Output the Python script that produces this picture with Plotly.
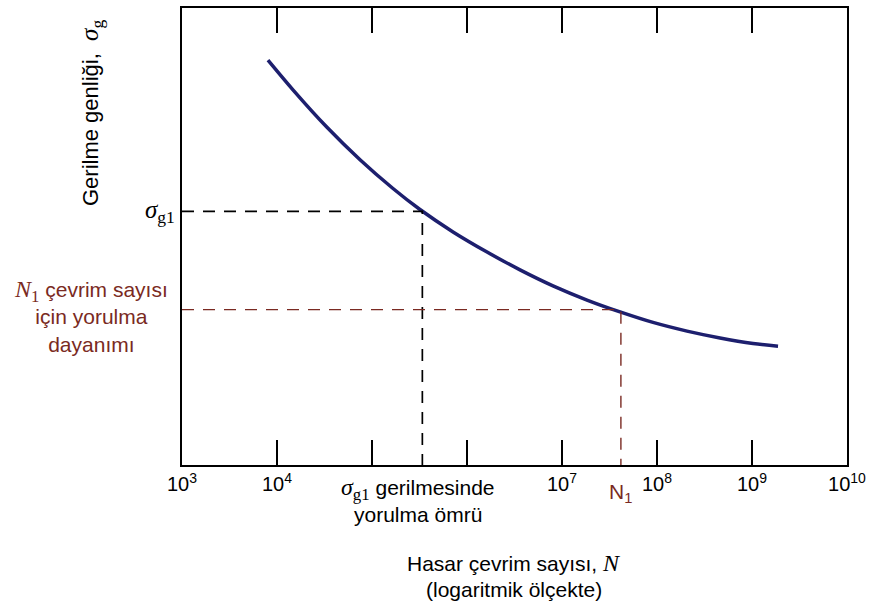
import plotly.graph_objects as go

# ---- data ----
curve_logN = [3.905, 4.168, 4.526, 4.874, 5.221, 5.505, 5.853, 6.211, 6.558, 6.905,
              7.263, 7.611, 7.958, 8.316, 8.663, 9.011, 9.274]
curve_stress = [88.6, 82.1, 73.9, 66.8, 60.5, 55.9, 51.0, 46.6, 42.7, 39.2,
                36.1, 33.5, 31.2, 29.3, 27.8, 26.6, 26.0]

sigma_g1 = 55.5          # stress level sigma_g1
life_at_sigma_g1 = 5.53  # log10 N at sigma_g1
N1_log = 7.62            # log10 N1
fatigue_strength_N1 = 34.0

tick_exps = [3, 4, 5, 6, 7, 8, 9, 10]
tick_text = ["10<sup>3</sup>", "10<sup>4</sup>", "", "", "10<sup>7</sup>",
             "10<sup>8</sup>", "10<sup>9</sup>", "10<sup>10</sup>"]

# ---- layout geometry (window pixels) ----
W, H = 870, 610
L, R, T, B = 182, 847, 8, 465

def pxx(x):
    return (x - L) / (R - L)

def pxy(y):
    return (B - y) / (B - T)

SANS = "Liberation Sans, Arial, sans-serif"
SERIF = "Liberation Serif, Times New Roman, serif"
RED = "#7a2a22"
NAVY = "#1d1f6e"
FS = 21

def sym(s, sub, size=25):
    return (f"<span style=\"font-family:{SERIF};font-size:{size}px\"><i>{s}</i>"
            f"<sub>{sub}</sub></span>")

fig = go.Figure()

fig.add_trace(go.Scatter(
    x=[10 ** v for v in curve_logN], y=curve_stress,
    mode="lines", line=dict(color=NAVY, width=3.5, shape="spline", smoothing=0.8),
    hoverinfo="skip", showlegend=False))

# black dashed guide lines
fig.add_trace(go.Scatter(
    x=[10 ** 3, 10 ** life_at_sigma_g1, 10 ** life_at_sigma_g1],
    y=[sigma_g1, sigma_g1, 0],
    mode="lines", line=dict(color="black", width=1.7, dash="12px,9px"),
    hoverinfo="skip", showlegend=False))

# red dashed guide lines
fig.add_trace(go.Scatter(
    x=[10 ** 3, 10 ** N1_log, 10 ** N1_log],
    y=[fatigue_strength_N1, fatigue_strength_N1, 0],
    mode="lines", line=dict(color=RED, width=1.4, dash="12px,9px"),
    hoverinfo="skip", showlegend=False))

# invisible trace to anchor the top tick axis
fig.add_trace(go.Scatter(
    x=[10 ** 3, 10 ** 10], y=[0, 0], xaxis="x2", mode="markers",
    marker=dict(opacity=0), hoverinfo="skip", showlegend=False))

tickvals = [10 ** e for e in tick_exps]
fig.update_layout(
    xaxis=dict(
        type="log", range=[3, 10],
        tickvals=tickvals, ticktext=tick_text,
        ticks="inside", ticklen=25, tickwidth=1.5, tickcolor="black",
        showline=True, linecolor="black", linewidth=2, mirror=True,
        showgrid=False, zeroline=False, automargin=False,
        tickfont=dict(family=SANS, size=20, color="black")),
    xaxis2=dict(
        type="log", range=[3, 10], overlaying="x", side="top", anchor="y",
        tickvals=tickvals, showticklabels=False,
        ticks="inside", ticklen=25, tickwidth=1.5, tickcolor="black",
        showline=False, showgrid=False, zeroline=False, automargin=False),
    yaxis=dict(
        range=[0, 100], showticklabels=False, ticks="",
        showline=True, linecolor="black", linewidth=2, mirror=True,
        showgrid=False, zeroline=False, automargin=False),
)

ann = []
# y-axis title
ann.append(dict(
    xref="paper", yref="paper", x=pxx(92), y=pxy(113),
    text="Gerilme genliği,  " + sym("σ", "g", 25),
    textangle=-90, showarrow=False, font=dict(family=SANS, size=22, color="black"),
    xanchor="center", yanchor="middle"))
# sigma_g1 label on y axis
ann.append(dict(
    xref="paper", yref="y", x=pxx(177), y=sigma_g1,
    text="<i>σ</i><sub>g1</sub>", showarrow=False,
    font=dict(family=SERIF, size=25, color="black"),
    xanchor="right", yanchor="middle"))
# red label on y axis
ann.append(dict(
    xref="paper", yref="paper", x=pxx(91), y=pxy(316),
    text=(sym("N", "1", 24) + " çevrim sayısı<br>için yorulma<br>dayanımı"),
    showarrow=False, align="center",
    font=dict(family=SANS, size=FS, color=RED),
    xanchor="center", yanchor="middle"))
# sigma_g1 life label below x axis
ann.append(dict(
    xref="x", yref="paper", x=life_at_sigma_g1 - 0.05, y=pxy(489),
    text=sym("σ", "g1", 24) + " gerilmesinde",
    showarrow=False, font=dict(family=SANS, size=FS, color="black"),
    xanchor="center", yanchor="middle"))
ann.append(dict(
    xref="x", yref="paper", x=life_at_sigma_g1 - 0.05, y=pxy(514),
    text="yorulma ömrü",
    showarrow=False, font=dict(family=SANS, size=FS, color="black"),
    xanchor="center", yanchor="middle"))
# N1 label
ann.append(dict(
    xref="x", yref="paper", x=N1_log, y=pxy(493),
    text="N<sub>1</sub>", showarrow=False,
    font=dict(family=SANS, size=FS, color=RED),
    xanchor="center", yanchor="middle"))
# x-axis title
ann.append(dict(
    xref="paper", yref="paper", x=pxx(514), y=pxy(563),
    text="Hasar çevrim sayısı, " + f"<span style=\"font-family:{SERIF};font-size:24px\"><i>N</i></span>",
    showarrow=False, font=dict(family=SANS, size=FS, color="black"),
    xanchor="center", yanchor="middle"))
ann.append(dict(
    xref="paper", yref="paper", x=pxx(514), y=pxy(590),
    text="(logaritmik ölçekte)",
    showarrow=False, font=dict(family=SANS, size=FS, color="black"),
    xanchor="center", yanchor="middle"))

fig.update_layout(
    width=W, height=H,
    margin=dict(l=L, r=W - R, t=T, b=H - B, pad=0),
    paper_bgcolor="white", plot_bgcolor="white",
    annotations=ann, showlegend=False)

fig.write_html(
    "out.html",
    config={"displayModeBar": False},
    post_script="document.body.style.margin='0';document.body.style.overflow='hidden';")
